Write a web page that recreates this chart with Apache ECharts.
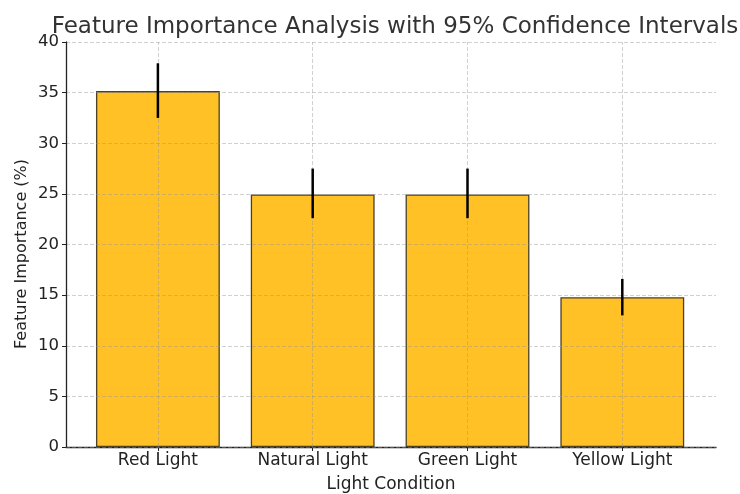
<!DOCTYPE html>
<html>
<head>
<meta charset="utf-8">
<script src="https://cdn.jsdelivr.net/npm/echarts@6/dist/echarts.min.js"></script>
<style>
  html, body { margin: 0; padding: 0; background: #fff; }
  #chart { width: 740px; height: 494px; }
</style>
</head>
<body>
<div id="chart"></div>
<script>
const categories = ['Red Light', 'Natural Light', 'Green Light', 'Yellow Light']
const importance = [35.15, 24.95, 24.95, 14.8]
const ciLow = [32.5, 22.6, 22.6, 13.0]
const ciHigh = [37.9, 27.5, 27.5, 16.6]

const font = 'DejaVu Sans'
const textColor = '#222'
const gridLine = { color: 'rgba(150,150,150,0.55)', type: [4, 2], width: 0.8 }

const chart = echarts.init(document.getElementById('chart'))

chart.setOption({
  animation: false,
  title: {
    text: 'Feature Importance Analysis with 95% Confidence Intervals',
    left: 390,
    textAlign: 'center',
    top: 11,
    textStyle: { fontFamily: font, fontSize: 23, fontWeight: 'normal', color: '#333' },
  },
  grid: [
    // spine + horizontal grid (full plot area)
    { left: 66, right: 24, top: 42, bottom: 47, outerBoundsMode: 'none', containLabel: false },
    // bars region (matplotlib xlim -0.6..3.6)
    { left: 80.5, right: 40.3, top: 42, bottom: 47, outerBoundsMode: 'none', containLabel: false },
  ],
  graphic: [
    {
      type: 'text',
      x: 22,
      y: 254,
      rotation: Math.PI / 2,
      style: {
        text: 'Feature Importance (%)',
        font: '16px "DejaVu Sans"',
        fill: textColor,
        align: 'center',
        verticalAlign: 'middle',
      },
    },
  ],
  xAxis: [
    {
      gridIndex: 0,
      type: 'value',
      min: 0,
      max: 1,
      axisLine: { show: true, onZero: false, lineStyle: { color: '#222', width: 1.3 } },
      axisTick: { show: false },
      axisLabel: { show: false },
      splitLine: { show: false },
      name: 'Light Condition',
      nameLocation: 'middle',
      nameGap: 29,
      nameTextStyle: { fontFamily: font, fontSize: 17, color: textColor },
    },
    {
      gridIndex: 1,
      type: 'category',
      data: categories,
      axisLine: { show: false, onZero: false },
      axisTick: { show: true, alignWithLabel: true, length: 4, lineStyle: { color: '#222' } },
      axisLabel: { fontFamily: font, fontSize: 17, color: textColor, margin: 5 },
      splitLine: { show: false },
    },
  ],
  yAxis: [
    {
      gridIndex: 0,
      type: 'value',
      min: 0,
      max: 40,
      interval: 5,
      z: 5,
      axisLine: { show: true, lineStyle: { color: '#222', width: 1.3 } },
      axisTick: { show: true, length: 4, lineStyle: { color: '#222' } },
      axisLabel: { fontFamily: font, fontSize: 16.5, color: textColor, margin: 7 },
      splitLine: { show: true, lineStyle: gridLine },
    },
    {
      gridIndex: 1,
      type: 'value',
      min: 0,
      max: 40,
      interval: 5,
      show: false,
    },
  ],
  series: [
    {
      type: 'bar',
      xAxisIndex: 1,
      yAxisIndex: 1,
      data: importance,
      barWidth: '80%',
      itemStyle: { color: '#FFC125', borderColor: '#4a4128', borderWidth: 1.3 },
      z: 2,
      markLine: {
        silent: true,
        symbol: 'none',
        label: { show: false },
        lineStyle: gridLine,
        data: categories.map(c => ({ xAxis: c })),
        z: 3,
      },
    },
    {
      type: 'custom',
      xAxisIndex: 1,
      yAxisIndex: 1,
      data: categories.map((c, i) => [i, ciLow[i], ciHigh[i]]),
      z: 6,
      renderItem(params, api) {
        const lo = api.coord([api.value(0), api.value(1)])
        const hi = api.coord([api.value(0), api.value(2)])
        return {
          type: 'line',
          shape: { x1: lo[0], y1: lo[1], x2: hi[0], y2: hi[1] },
          style: { stroke: '#000', lineWidth: 2.5 },
        }
      },
    },
  ],
})
</script>
</body>
</html>
